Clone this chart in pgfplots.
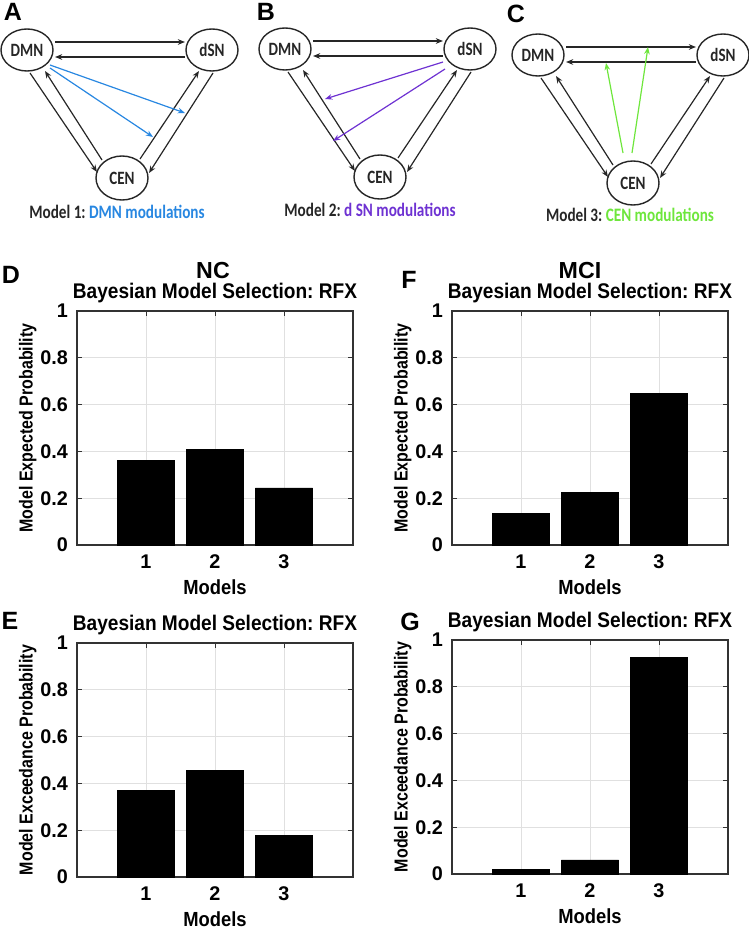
\documentclass[border=0pt]{standalone}
\usepackage{fontspec}
\setmainfont{Liberation Sans}
\newfontfamily\ylabfont[FakeStretch=0.85]{Liberation Sans}
\newfontfamily\titlefont[FakeStretch=0.9]{Liberation Sans}
\newfontfamily\diagfont[FakeStretch=0.8]{Carlito}
\usepackage{pgfplots}
\pgfplotsset{compat=1.18}
\usetikzlibrary{arrows.meta}
\frenchspacing
\definecolor{dmnblue}{RGB}{40,135,225}
\definecolor{dsnpurple}{RGB}{110,50,210}
\definecolor{cengreen}{RGB}{110,230,60}

\pgfplotsset{
  bmsaxis/.style={
    scale only axis, width=138pt, height=117pt,
    xmin=0, xmax=4, ymin=0, ymax=1,
    xtick={1,2,3}, ytick={0,0.2,0.4,0.6,0.8,1},
    ybar, bar width=0.83,
    grid=major, major grid style={black!12, line width=0.4pt},
    axis line style={black!80, line width=0.55pt},
    tick style={black!80, line width=0.45pt},
    tick align=inside, major tick length=2.6pt,
    /pgf/number format/assume math mode=true,
    tick label style={font=\fontsize{9.9}{11}\selectfont\bfseries},
    xticklabel style={yshift=-1.5pt},
    yticklabel style={xshift=-1pt},
    xlabel={Models},
    xlabel style={font=\titlefont\fontsize{10.2}{11}\selectfont\bfseries, at={(axis description cs:0.5,-0.18)}, anchor=center},
    ylabel style={font=\ylabfont\fontsize{9.4}{11}\selectfont\bfseries, at={(axis description cs:-0.178,0.5)}, anchor=center},
    every axis title/.style={font=\titlefont\fontsize{10.6}{11}\selectfont\bfseries, at={(axis description cs:0.5,1)}, anchor=base, yshift=6.4pt},
    title={Bayesian Model Selection: RFX},
  },
  bmsbar/.style={fill=black, draw=black, line width=0.4pt},
}

\tikzset{
  circ/.style={line width=0.7pt, black!85},
  nodetxt/.style={font=\diagfont\bfseries\fontsize{9.4}{10}\selectfont, text=black!85},
  captxt/.style={font=\diagfont\bfseries\fontsize{9.5}{10}\selectfont, text=black!85},
  netarr/.style={line width=0.6pt, black!85, -{Stealth[length=3.6pt, width=2.8pt]}},
  modarr/.style={line width=0.6pt, -{Stealth[length=3.6pt, width=2.8pt]}},
  letter/.style={font=\fontsize{12.5}{12}\selectfont\bfseries},
}

\newcommand{\netbase}{%
  \draw[circ] (0,0) ellipse [x radius=26, y radius=21];
  \draw[circ] (185,0) ellipse [x radius=26, y radius=21];
  \draw[circ] (95,128) ellipse [x radius=26, y radius=22];
  \node[nodetxt] at (0,0) {DMN};
  \node[nodetxt] at (185,0) {dSN};
  \node[nodetxt] at (95,128) {CEN};
  \draw[netarr] (28,-8) -- (158,-8);
  \draw[netarr] (158,7) -- (28,7);
  \draw[netarr] (3,23) -- (70,122);
  \draw[netarr] (75,110) -- (18,21);
  \draw[netarr] (113,109) -- (172,21);
  \draw[netarr] (186,23) -- (122,123);
}

\begin{document}
\begin{tikzpicture}[x=0.5pt, y=-0.5pt]
\path[use as bounding box] (0,0) rectangle (749,931);

% ---- network diagrams ----
\node[letter] at (13,12) {A};
\begin{scope}[shift={(27,50)}]
  \netbase
  \draw[modarr, dmnblue] (23,15) -- (158,63);
  \draw[modarr, dmnblue] (23,18) -- (126,87);
  \node[captxt] at (90,162) {Model 1: \textcolor{dmnblue}{DMN modulations}};
\end{scope}

\node[letter] at (266,12) {B};
\begin{scope}[shift={(285,49)}]
  \netbase
  \draw[modarr, dsnpurple] (158,13) -- (40,50);
  \draw[modarr, dsnpurple] (160,20) -- (48,92);
  \node[captxt] at (85,161) {Model 2: \textcolor{dsnpurple}{d SN modulations}};
\end{scope}

\node[letter] at (516,14) {C};
\begin{scope}[shift={(538,55)}]
  \netbase
  \draw[modarr, cengreen] (85,98) -- (68,8);
  \draw[modarr, cengreen] (94,98) -- (110,-8);
  \node[captxt] at (92,160) {Model 3: \textcolor{cengreen}{CEN modulations}};
\end{scope}

% ---- panel letters and group titles ----
\node[letter] at (11,275) {D};
\node[letter] at (409,280) {F};
\node[letter] at (10,621) {E};
\node[letter] at (410,622) {G};
\node[font=\fontsize{11.6}{12}\selectfont\bfseries, anchor=base] at (213,278) {NC};
\node[font=\fontsize{11.6}{12}\selectfont\bfseries, anchor=base] at (580,278) {MCI};

\coordinate (pD) at (77,545);
\coordinate (pF) at (452,545);
\coordinate (pE) at (77,877);
\coordinate (pG) at (452,874);

\begin{axis}[bmsaxis, at={(pD)}, anchor=south west, ylabel={Model Expected Probability}]
\addplot[bmsbar] coordinates {(1,0.362) (2,0.407) (3,0.244)};
\end{axis}

\begin{axis}[bmsaxis, at={(pF)}, anchor=south west, ylabel={Model Expected Probability}]
\addplot[bmsbar] coordinates {(1,0.136) (2,0.226) (3,0.646)};
\end{axis}

\begin{axis}[bmsaxis, at={(pE)}, anchor=south west, ylabel={Model Exceedance Probability}]
\addplot[bmsbar] coordinates {(1,0.370) (2,0.454) (3,0.178)};
\end{axis}

\begin{axis}[bmsaxis, at={(pG)}, anchor=south west, ylabel={Model Exceedance Probability}]
\addplot[bmsbar] coordinates {(1,0.019) (2,0.060) (3,0.924)};
\end{axis}
\end{tikzpicture}
\end{document}
